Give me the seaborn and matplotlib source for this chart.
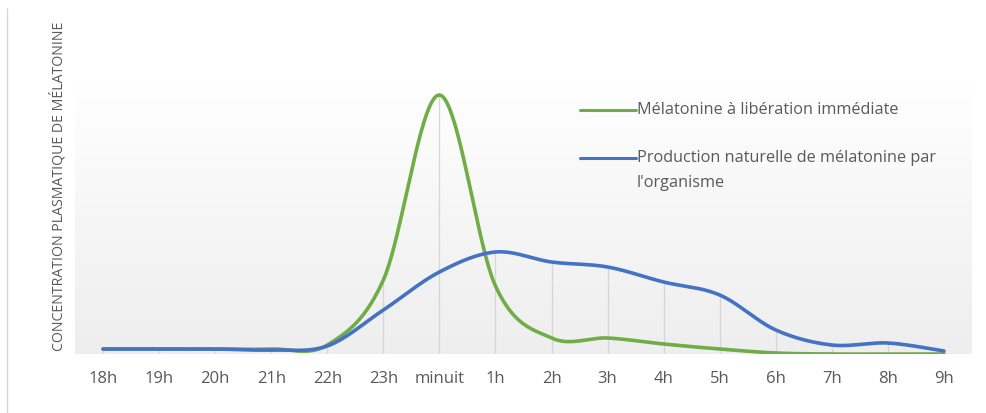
import numpy as np
import pandas as pd
import matplotlib
matplotlib.use("Agg")
import matplotlib.pyplot as plt
import seaborn as sns
from matplotlib.colors import LinearSegmentedColormap
from matplotlib.lines import Line2D

# Data (arbitrary concentration units)
hours = ["18h", "19h", "20h", "21h", "22h", "23h", "minuit", "1h",
         "2h", "3h", "4h", "5h", "6h", "7h", "8h", "9h"]
immediate = [5, 5, 5, 5, 9, 74, 259, 68, 16, 16, 10, 5, 1, 0, 0, 0]
natural = [5, 5, 5, 4, 8, 44, 82, 102, 92, 87, 72, 59, 24, 9, 11, 3]

label_immediate = "Mélatonine à libération immédiate"
label_natural_1 = "Production naturelle de mélatonine par"
label_natural_2 = "l'organisme"
ylabel = "CONCENTRATION PLASMATIQUE DE MÉLATONINE"

GREEN = "#70AD47"
BLUE = "#4472C4"
TEXT = "#595959"


def smooth(xs, ys, n=40):
    # Excel style smoothed line (bezier through the points)
    pts = np.column_stack([xs, ys]).astype(float)
    out = []
    for i in range(len(pts) - 1):
        p0 = pts[i - 1] if i > 0 else pts[i]
        p1, p2 = pts[i], pts[i + 1]
        p3 = pts[i + 2] if i + 2 < len(pts) else pts[i + 1]
        c1 = p1 + (p2 - p0) / 6
        c2 = p2 - (p3 - p1) / 6
        t = np.linspace(0, 1, n, endpoint=(i == len(pts) - 2))[:, None]
        out.append((1 - t) ** 3 * p1 + 3 * (1 - t) ** 2 * t * c1
                   + 3 * (1 - t) * t ** 2 * c2 + t ** 3 * p2)
    return np.vstack(out)


sns.set_style("white")
plt.rcParams["font.family"] = ["Open Sans", "DejaVu Sans"]

fig = plt.figure(figsize=(9.87, 4.13), dpi=100)
ax = fig.add_axes([75 / 987, 1 - 354 / 413, (972 - 75) / 987, (354 - 15) / 413])

x = np.arange(len(hours))
ax.set_xlim(-0.5, len(hours) - 0.5)
ax.set_ylim(0, 339)

# gradient background of the plot area
cmap = LinearSegmentedColormap.from_list(
    "bg", [(0, "#ffffff"), (0.2, "#ffffff"), (0.6, "#f6f6f6"), (1, "#eeeeee")])
grad = np.linspace(0, 1, 256)[:, None]
ax.imshow(grad, aspect="auto", cmap=cmap, origin="upper",
          extent=(-0.5, len(hours) - 0.5, 0, 339), zorder=0)

# drop lines
tops = np.maximum(immediate, natural)
ax.vlines(x, 0, tops, color="#d6d6d6", lw=0.9, zorder=1)

rows = []
for name, vals in [("immediate", immediate), ("natural", natural)]:
    s = smooth(x, vals)
    rows.append(pd.DataFrame({"x": s[:, 0], "y": s[:, 1], "serie": name}))
df = pd.concat(rows, ignore_index=True)

sns.lineplot(data=df, x="x", y="y", hue="serie", sort=False,
             palette={"immediate": GREEN, "natural": BLUE},
             lw=2.6, legend=False, ax=ax, zorder=3)

ax.set_xticks(x)
ax.set_xticklabels(hours, fontsize=12, color=TEXT)
ax.tick_params(axis="x", length=0, pad=12)
ax.set_yticks([])
ax.set_xlabel("")
ax.set_ylabel("")
for sp in ax.spines.values():
    sp.set_visible(False)

# y label
fig.text(58 / 987, 1 - 186 / 413, ylabel, rotation=90, ha="center", va="center",
         fontsize=10.2, color=TEXT)

# legend drawn by hand
def fy(py):
    return 1 - py / 413

fig.add_artist(Line2D([580 / 987, 636 / 987], [fy(110), fy(110)], color=GREEN, lw=2.2))
fig.add_artist(Line2D([580 / 987, 636 / 987], [fy(158), fy(158)], color=BLUE, lw=2.2))
fig.text(637 / 987, fy(110), label_immediate, fontsize=11.7, color=TEXT, va="center")
fig.text(637 / 987, fy(158), label_natural_1, fontsize=11.7, color=TEXT, va="center")
fig.text(637 / 987, fy(183), label_natural_2, fontsize=11.7, color=TEXT, va="center")

# left border line of the picture
fig.add_artist(Line2D([7 / 987, 7 / 987], [0, fy(8)], color="#d9d9d9", lw=1))

fig.savefig("out.png", dpi=100)
